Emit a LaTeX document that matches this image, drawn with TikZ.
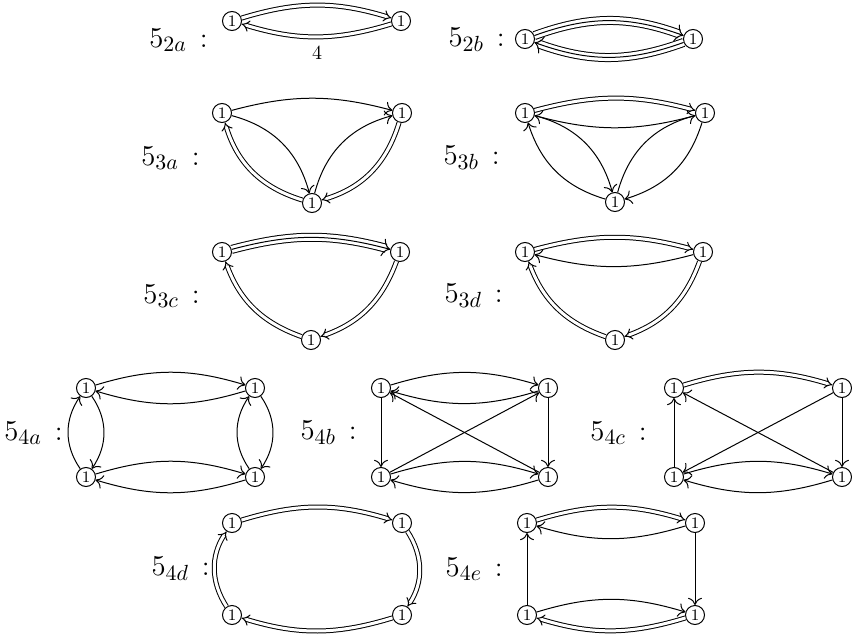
\documentclass[tikz,border=0pt]{standalone}
\usetikzlibrary{arrows.meta}
\DeclareMathSizes{14}{14}{11}{8}
\begin{document}
\begin{tikzpicture}[x=0.5pt,y=0.5pt,
  nd/.style={circle,draw,line width=0.5pt,inner sep=0pt,minimum size=9.5pt,font=\footnotesize},
  lb/.style={anchor=east,inner sep=0pt,font=\fontsize{14}{16}\selectfont},
  sa/.style={line width=0.5pt,-{Computer Modern Rightarrow[length=3.6pt,width=7pt]}},
  da/.style={line width=0.5pt,double,double distance=1.5pt,-{Implies}},
  ta/.style={line width=0.5pt,double,double distance=3.5pt,shorten >=2.2pt},
  tc/.style={line width=0.5pt,-{Computer Modern Rightarrow[length=4pt,width=9pt]}},
]
\fill[white] (0,0) rectangle (852,634);
\useasboundingbox (0,0) rectangle (852,634);

% 5_2a
\node[lb] (la) at (208,594) {$5_{2a}\,:$};
\node[nd] (a1) at (232,613) {1};
\node[nd] (a2) at (401,613) {1};
\draw[da] (a1) to[bend left=17] (a2);
\draw[da] (a2) to[bend left=17] (a1);
\node[font=\normalsize] (a4) at (317,581) {4};

% 5_2b
\node[lb] (lb2) at (505,594) {$5_{2b}\,:$};
\node[nd] (b1) at (525,595) {1};
\node[nd] (b2) at (693,595) {1};
\draw[ta] (b1) to[bend left=20] (b2);
\draw[tc] (b1) to[bend left=20] (b2);
\draw[ta] (b2) to[bend left=20] (b1);
\draw[tc] (b2) to[bend left=20] (b1);

% 5_3a
\node[lb] (lc) at (200,476) {$5_{3a}\,:$};
\node[nd] (c1) at (222,521) {1};
\node[nd] (c2) at (402,521) {1};
\node[nd] (c3) at (312,431) {1};
\draw[sa] (c1) to[bend left=15] (c2);
\draw[sa] (c1) to[bend left=30] (c3);
\draw[da] (c3) to[bend left=28] (c1);
\draw[sa] (c3) to[bend left=30] (c2);
\draw[da] (c2) to[bend left=28] (c3);

% 5_3b
\node[lb] (ld) at (500,476) {$5_{3b}\,:$};
\node[nd] (d1) at (525,521) {1};
\node[nd] (d2) at (705,521) {1};
\node[nd] (d3) at (615,432) {1};
\draw[da] (d1) to[bend left=15] (d2);
\draw[sa] (d2) to[bend left=15] (d1);
\draw[sa] (d1) to[bend left=30] (d3);
\draw[sa] (d3) to[bend left=28] (d1);
\draw[sa] (d3) to[bend left=30] (d2);
\draw[sa] (d2) to[bend left=28] (d3);

% 5_3c
\node[lb] (le) at (200,338) {$5_{3c}\,:$};
\node[nd] (e1) at (222,382) {1};
\node[nd] (e2) at (400,382) {1};
\node[nd] (e3) at (311,294) {1};
\draw[ta] (e1) to[bend left=15] (e2);
\draw[tc] (e1) to[bend left=15] (e2);
\draw[da] (e2) to[bend left=25] (e3);
\draw[da] (e3) to[bend left=25] (e1);

% 5_3d
\node[lb] (lf) at (503,338) {$5_{3d}\,:$};
\node[nd] (f1) at (525,382) {1};
\node[nd] (f2) at (703,382) {1};
\node[nd] (f3) at (615,294) {1};
\draw[da] (f1) to[bend left=15] (f2);
\draw[sa] (f2) to[bend left=15] (f1);
\draw[da] (f2) to[bend left=25] (f3);
\draw[da] (f3) to[bend left=25] (f1);

% 5_4a
\node[lb] (lg) at (63,201) {$5_{4a}\,:$};
\node[nd] (g1) at (86,246) {1};
\node[nd] (g2) at (255,246) {1};
\node[nd] (g3) at (86,157) {1};
\node[nd] (g4) at (255,157) {1};
\draw[sa] (g1) to[bend left=17] (g2);
\draw[sa] (g2) to[bend left=17] (g1);
\draw[sa] (g3) to[bend left=17] (g4);
\draw[sa] (g4) to[bend left=17] (g3);
\draw[sa] (g1) to[bend left=35] (g3);
\draw[sa] (g3) to[bend left=35] (g1);
\draw[sa] (g2) to[bend left=35] (g4);
\draw[sa] (g4) to[bend left=35] (g2);

% 5_4b
\node[lb] (lh) at (357,201) {$5_{4b}\,:$};
\node[nd] (h1) at (381,246) {1};
\node[nd] (h2) at (548,246) {1};
\node[nd] (h3) at (381,157) {1};
\node[nd] (h4) at (548,157) {1};
\draw[sa] (h1) to[bend left=17] (h2);
\draw[sa] (h2) to[bend left=17] (h1);
\draw[sa] (h3) to[bend left=17] (h4);
\draw[sa] (h4) to[bend left=17] (h3);
\draw[sa] (h1) -- (h3);
\draw[sa] (h2) -- (h4);
\draw[sa] (h3) -- (h2);
\draw[sa] (h4) -- (h1);

% 5_4c
\node[lb] (li) at (647,201) {$5_{4c}\,:$};
\node[nd] (i1) at (674,246) {1};
\node[nd] (i2) at (842,246) {1};
\node[nd] (i3) at (674,157) {1};
\node[nd] (i4) at (842,157) {1};
\draw[da] (i1) to[bend left=17] (i2);
\draw[sa] (i2) -- (i4);
\draw[sa] (i3) -- (i1);
\draw[sa] (i2) -- (i3);
\draw[sa] (i4) -- (i1);
\draw[sa] (i3) to[bend left=17] (i4);
\draw[sa] (i4) to[bend left=17] (i3);

% 5_4d
\node[lb] (lj) at (210,65) {$5_{4d}\,:$};
\node[nd] (j1) at (232,111) {1};
\node[nd] (j2) at (402,111) {1};
\node[nd] (j3) at (232,19) {1};
\node[nd] (j4) at (402,19) {1};
\draw[da] (j1) to[bend left=17] (j2);
\draw[da] (j2) to[bend left=33] (j4);
\draw[da] (j4) to[bend left=17] (j3);
\draw[da] (j3) to[bend left=33] (j1);

% 5_4e
\node[lb] (lk) at (503,65) {$5_{4e}\,:$};
\node[nd] (k1) at (527,111) {1};
\node[nd] (k2) at (695,111) {1};
\node[nd] (k3) at (527,19) {1};
\node[nd] (k4) at (695,19) {1};
\draw[da] (k1) to[bend left=17] (k2);
\draw[sa] (k2) to[bend left=17] (k1);
\draw[sa] (k2) -- (k4);
\draw[sa] (k3) -- (k1);
\draw[sa] (k3) to[bend left=17] (k4);
\draw[da] (k4) to[bend left=17] (k3);
\end{tikzpicture}
\end{document}
